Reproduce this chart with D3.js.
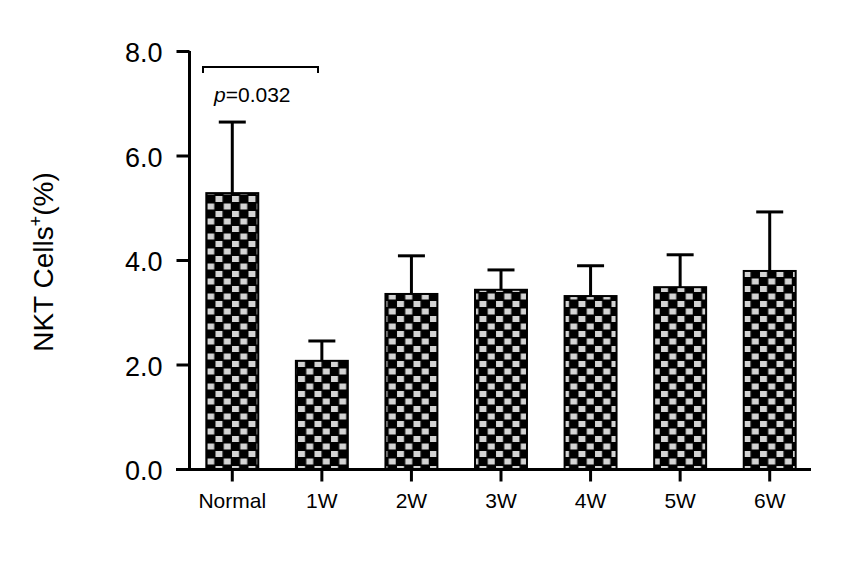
<!DOCTYPE html>
<html lang="en">
<meta charset="UTF-8">
<title>NKT Cells</title>
<script src="https://d3js.org/d3.v7.min.js"></script>
<style>
body {margin:0; background:#fff}
svg text {font-family: "Liberation Sans", Arial, sans-serif; fill:#000}
</style>
<body>
<div id="chart"></div>
<script>
// data
const groups = ["Normal", "1W", "2W", "3W", "4W", "5W", "6W"];
const means = [5.28, 2.07, 3.35, 3.43, 3.31, 3.48, 3.79];
const errs = [1.36, 0.38, 0.73, 0.38, 0.58, 0.62, 1.13];
const yTicks = [0, 2, 4, 6, 8];

const W = 866, H = 562;
const svg = d3.select("#chart").append("svg")
    .attr("width", W).attr("height", H);

// checkerboard fill
const pat = svg.append("defs").append("pattern")
    .attr("id", "checks")
    .attr("patternUnits", "userSpaceOnUse")
    .attr("width", 16.5).attr("height", 15);
pat.append("rect").attr("width", 16.5).attr("height", 15).attr("fill", "#000");
pat.append("rect").attr("x", 1).attr("y", 1).attr("width", 7).attr("height", 6).attr("fill", "#d4d4d4");
pat.append("rect").attr("x", 9.25).attr("y", 8.5).attr("width", 7).attr("height", 6).attr("fill", "#d4d4d4");

const x = d3.scaleBand()
    .domain(groups)
    .range([187.5, 814.5])
    .paddingInner(0.42)
    .paddingOuter(0.21);

const y = d3.scaleLinear().domain([0, 8]).range([469, 51]);

// bars
svg.selectAll("rect.bar")
    .data(groups)
    .enter().append("rect")
    .attr("class", "bar")
    .attr("x", d => x(d))
    .attr("width", x.bandwidth())
    .attr("y", (d, i) => y(means[i]))
    .attr("height", (d, i) => y(0) - y(means[i]))
    .attr("fill", "url(#checks)")
    .attr("stroke", "#000")
    .attr("stroke-width", 2);

// error bars (upper only)
const eb = svg.append("g").attr("stroke", "#000").attr("stroke-width", 3);
groups.forEach((g, i) => {
  const cx = x(g) + x.bandwidth() / 2;
  eb.append("line")
    .attr("x1", cx).attr("x2", cx)
    .attr("y1", y(means[i])).attr("y2", y(means[i] + errs[i]));
  eb.append("line")
    .attr("x1", cx - 13.5).attr("x2", cx + 13.5)
    .attr("y1", y(means[i] + errs[i])).attr("y2", y(means[i] + errs[i]));
});

// y axis
const yAxis = svg.append("g")
    .attr("transform", "translate(189.5,0)")
    .call(d3.axisLeft(y).tickValues(yTicks).tickSize(13).tickPadding(14)
      .tickFormat(d3.format(".1f")));
yAxis.select(".domain").attr("stroke-width", 3).attr("d", "M0,51V469");
yAxis.selectAll(".tick line").attr("stroke-width", 3);
yAxis.selectAll(".tick text").attr("font-size", 27).attr("dy", "0.4em");

// x axis
const xAxis = svg.append("g")
    .attr("transform", "translate(0,469.5)")
    .call(d3.axisBottom(x).tickSize(12).tickPadding(12));
xAxis.select(".domain").attr("stroke-width", 3).attr("d", "M176,0H811");
xAxis.selectAll(".tick line").attr("stroke-width", 3);
xAxis.selectAll(".tick text").attr("font-size", 21).attr("dy", "0.71em");
svg.selectAll(".tick text").attr("font-family", "Liberation Sans, Arial, sans-serif");

// y title
const yt = svg.append("text")
    .attr("transform", "translate(53,262) rotate(-90)")
    .attr("text-anchor", "middle")
    .attr("font-size", 28);
yt.append("tspan").text("NKT Cells");
yt.append("tspan").attr("font-size", 18).attr("dy", -11).text("+");
yt.append("tspan").attr("dy", 11).text("(%)");

// significance bracket between Normal and 1W
svg.append("path")
    .attr("d", "M203,73V67H318V73")
    .attr("fill", "none").attr("stroke", "#000").attr("stroke-width", 2);
const pt = svg.append("text").attr("x", 214).attr("y", 102).attr("font-size", 21);
pt.append("tspan").attr("font-style", "italic").text("p");
pt.append("tspan").text("=0.032");
</script>
</body>
</html>
